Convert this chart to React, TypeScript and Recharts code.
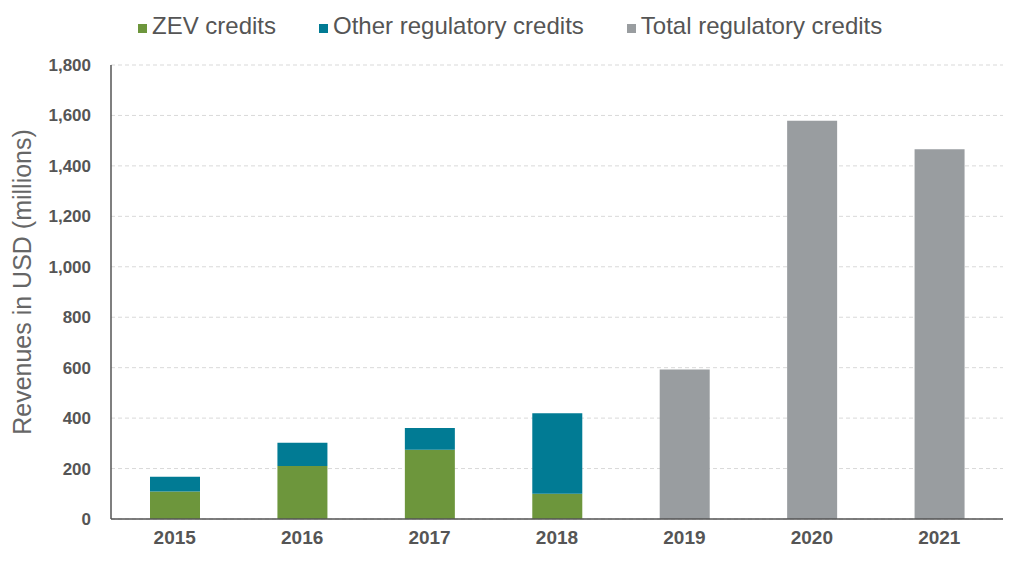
import { Bar, BarChart, CartesianGrid, XAxis, YAxis } from 'recharts'

const years = ['2015', '2016', '2017', '2018', '2019', '2020', '2021']
const zevCredits = [109, 210, 275, 100, null, null, null]
const otherCredits = [59, 92, 86, 319, null, null, null]
const totalCredits = [null, null, null, null, 593, 1579, 1466]
const yTicks = [0, 200, 400, 600, 800, 1000, 1200, 1400, 1600, 1800]

const chartData = years.map((year, i) => ({
  year,
  zev: zevCredits[i],
  other: otherCredits[i],
  total: totalCredits[i]
}))

const font = '"Liberation Sans", Arial, Helvetica, sans-serif'
const green = '#6D963C'
const teal = '#017B94'
const grey = '#999DA0'

const legendItems = [
  { name: 'ZEV credits', color: green },
  { name: 'Other regulatory credits', color: teal },
  { name: 'Total regulatory credits', color: grey }
]

function YLabel({ viewBox }: any) {
  const cy = viewBox.y + viewBox.height / 2 - 10
  return (
    <text
      x={31}
      y={cy}
      transform={`rotate(-90, 31, ${cy})`}
      textAnchor="middle"
      fill="#666"
      fontSize={25}
      fontFamily={font}
    >
      Revenues in USD (millions)
    </text>
  )
}

function LegendRow() {
  return (
    <div
      style={{
        position: 'absolute',
        top: 11,
        left: 138,
        display: 'flex',
        gap: 43,
        fontFamily: font,
        fontSize: 24,
        lineHeight: '30px',
        color: '#555'
      }}
    >
      {legendItems.map(item => (
        <span key={item.name} style={{ display: 'inline-flex', alignItems: 'center' }}>
          <span style={{ width: 9, height: 9, background: item.color, marginRight: 5, marginTop: 4 }} />
          {item.name}
        </span>
      ))}
    </div>
  )
}

export default function App() {
  return (
    <div style={{ position: 'absolute', left: 0, top: 0, width: 1024, height: 562, background: '#fff' }}>
      <LegendRow />
      <BarChart
        width={1024}
        height={562}
        data={chartData}
        margin={{ top: 65, right: 21, left: 0, bottom: 13 }}
      >
        <CartesianGrid vertical={false} stroke="#d9d9d9" strokeDasharray="4 3" />
        <XAxis
          dataKey="year"
          height={30}
          axisLine={{ stroke: '#555', strokeWidth: 1.5 }}
          tickLine={false}
          tick={{ fill: '#555', fontSize: 19, fontWeight: 'bold', fontFamily: font }}
          tickMargin={6}
        />
        <YAxis
          width={111}
          domain={[0, 1800]}
          ticks={yTicks}
          interval={0}
          axisLine={{ stroke: '#555', strokeWidth: 1.5 }}
          tickLine={false}
          tickFormatter={v => v.toLocaleString('en-US')}
          tick={{ fill: '#555', fontSize: 17, fontWeight: 'bold', fontFamily: font }}
          tickMargin={14}
          label={<YLabel />}
        />
        <Bar dataKey="zev" name="ZEV credits" stackId="a" fill={green} barSize={50} isAnimationActive={false} />
        <Bar dataKey="other" name="Other regulatory credits" stackId="a" fill={teal} barSize={50} isAnimationActive={false} />
        <Bar dataKey="total" name="Total regulatory credits" stackId="a" fill={grey} barSize={50} isAnimationActive={false} />
      </BarChart>
    </div>
  )
}
